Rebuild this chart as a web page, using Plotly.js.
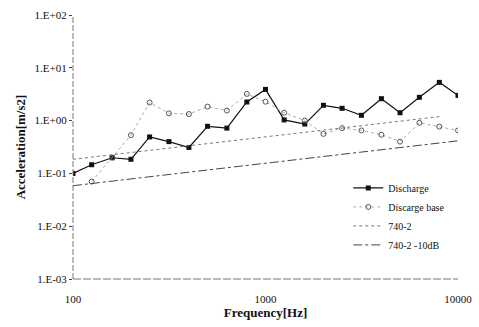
<!DOCTYPE html>
<html>
<head>
<meta charset="utf-8">
<script src="https://cdn.plot.ly/plotly-3.0.1.min.js"></script>
<style>html,body{margin:0;padding:0;background:#fff;}#chart{width:479px;height:327px;}</style>
</head>
<body>
<div id="chart"></div>
<script>
// 1/3-octave band centre frequencies [Hz]
var freq = [100, 125, 160, 200, 250, 315, 400, 500, 630, 800, 1000, 1250, 1600, 2000, 2500, 3150, 4000, 5000, 6300, 8000, 10000];
// Discharge acceleration [m/s2]
var discharge = [0.10, 0.146, 0.198, 0.185, 0.49, 0.40, 0.31, 0.78, 0.72, 2.25, 3.9, 1.03, 0.86, 1.95, 1.71, 1.26, 2.6, 1.41, 2.76, 5.3, 3.0];
// Discarge base acceleration [m/s2]
var dischargeBase = [null, 0.07, 0.20, 0.53, 2.2, 1.37, 1.33, 1.84, 1.55, 3.2, 2.28, 1.41, 1.0, 0.56, 0.72, 0.65, 0.54, 0.40, 0.91, 0.77, 0.65];
// 740-2 criterion line
var freq740 = [100, 8000];
var limit740 = [0.185, 1.19];
// 740-2 -10dB line
var freq740m10 = [100, 10000];
var limit740m10 = [0.0585, 0.414];
// axis tick labels
var yTickVals = [0.001, 0.01, 0.1, 1, 10, 100];
var yTickText = ["1.E-03", "1.E-02", "1.E-01", "1.E+00", "1.E+01", "1.E+02"];
var xTickVals = [100, 1000, 10000];
var xTickText = ["100", "1000", "10000"];

var serif = "Liberation Serif, Times New Roman, serif";

var traces = [
  {x: freq, y: discharge, name: "Discharge", mode: "lines+markers",
   line: {color: "#111", width: 1.2},
   marker: {symbol: "square", size: 5, color: "#111"}},
  {x: freq, y: dischargeBase, name: "Discarge base", mode: "lines+markers",
   line: {color: "#aaa", width: 1, dash: "dot"},
   marker: {symbol: "circle-open", size: 5, color: "#555", line: {width: 1}}},
  {x: freq740, y: limit740, name: "740-2", mode: "lines",
   line: {color: "#777", width: 1, dash: "dot"}},
  {x: freq740m10, y: limit740m10, name: "740-2 -10dB", mode: "lines",
   line: {color: "#444", width: 1, dash: "dashdot"}}
];

var layout = {
  width: 479, height: 327,
  margin: {l: 73, r: 21, t: 15, b: 48},
  paper_bgcolor: "#fff", plot_bgcolor: "#fff",
  font: {family: serif, size: 11, color: "#111"},
  showlegend: true,
  legend: {x: 0.715, y: 0.40, xanchor: "left", yanchor: "top",
           bgcolor: "rgba(0,0,0,0)", font: {family: serif, size: 10, color: "#111"},
           tracegroupgap: 0, itemwidth: 30},
  xaxis: {type: "log", range: [2, 4], tickvals: xTickVals, ticktext: xTickText,
          showgrid: false, zeroline: false, showline: false, ticks: "",
          ticklabelstandoff: 12,
          tickfont: {family: serif, size: 11, color: "#111"},
          title: {text: "<b>Frequency[Hz]</b>", font: {family: serif, size: 13, color: "#111"}, standoff: 2}},
  yaxis: {type: "log", range: [-3, 2], tickvals: yTickVals, ticktext: yTickText,
          showgrid: false, zeroline: false, showline: false, ticks: "outside", ticklen: 3, tickcolor: "#444",
          tickfont: {family: serif, size: 11, color: "#111"},
          title: {text: "<b>Acceleration[m/s2]</b>", font: {family: serif, size: 13, color: "#111"}, standoff: 6}},
  shapes: [
    {type: "line", xref: "paper", yref: "paper", x0: 0, x1: 0, y0: 0, y1: 1,
     line: {color: "#777", width: 1, dash: "6px,2px"}},
    {type: "line", xref: "paper", yref: "paper", x0: 0, x1: 1, y0: 0, y1: 0,
     line: {color: "#777", width: 1, dash: "8px,2px"}}
  ]
};

Plotly.newPlot("chart", traces, layout, {displayModeBar: false, staticPlot: true});
</script>
</body>
</html>
